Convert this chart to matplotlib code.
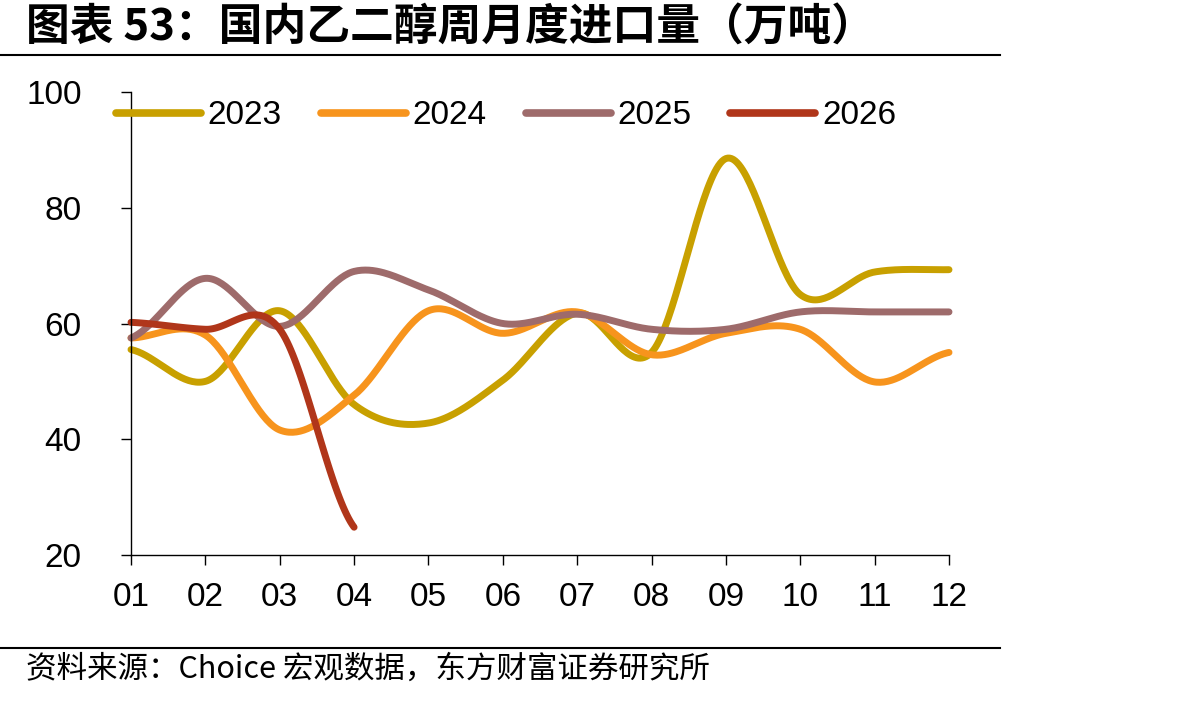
import numpy as np
import matplotlib.pyplot as plt

plt.rcParams['font.family'] = ['Liberation Sans', 'Noto Sans CJK SC', 'DejaVu Sans']

months = ['01', '02', '03', '04', '05', '06', '07', '08', '09', '10', '11', '12']
v2023 = [55.5, 50.0, 62.2, 46.0, 42.8, 50.2, 61.8, 55.0, 88.5, 65.0, 68.9, 69.3]
v2024 = [57.5, 58.0, 41.6, 47.6, 62.2, 58.3, 62.0, 54.6, 58.3, 59.0, 49.9, 55.0]
v2025 = [57.5, 67.8, 59.5, 69.0, 65.8, 60.0, 61.6, 59.0, 59.0, 62.0, 62.0, 62.0]
v2026 = [60.2, 59.0, 59.0, 24.8]
colors = ['#C8A000', '#F7941D', '#9E6B6B', '#B0361A']
labels = ['2023', '2024', '2025', '2026']


def smooth(y, n=40):
    # catmull-rom style curve through the points, like excel smoothed lines
    y = np.asarray(y, dtype=float)
    x = np.arange(len(y), dtype=float)
    m = np.zeros_like(y)
    m[1:-1] = (y[2:] - y[:-2]) / 2
    m[0] = (y[1] - y[0]) / 2
    m[-1] = (y[-1] - y[-2]) / 2
    xs, ys = [], []
    for i in range(len(y) - 1):
        t = np.linspace(0, 1, n, endpoint=False)
        h00 = 2 * t**3 - 3 * t**2 + 1
        h10 = t**3 - 2 * t**2 + t
        h01 = -2 * t**3 + 3 * t**2
        h11 = t**3 - t**2
        xs.append(x[i] + t)
        ys.append(h00 * y[i] + h10 * m[i] + h01 * y[i + 1] + h11 * m[i + 1])
    xs.append([x[-1]])
    ys.append([y[-1]])
    return np.concatenate(xs), np.concatenate(ys)


fig = plt.figure(figsize=(11.92, 7.01), dpi=100)
ax = fig.add_axes([131 / 1192, 1 - 555 / 701, 818 / 1192, 463 / 701])

for vals, c, lab in zip([v2023, v2024, v2025, v2026], colors, labels):
    xs, ys = smooth(vals)
    ax.plot(xs, ys, color=c, lw=5, label=lab, solid_capstyle='round', clip_on=False)

ax.set_xlim(0, 11)
ax.set_ylim(20, 100)
ax.set_xticks(range(12))
ax.set_xticklabels(months)
ax.set_yticks([20, 40, 60, 80, 100])
ax.tick_params(axis='both', labelsize=24, length=7.5, width=1, direction='out')
ax.tick_params(axis='x', pad=12)
ax.tick_params(axis='y', pad=28)
for s in ['top', 'right']:
    ax.spines[s].set_visible(False)
for s in ['left', 'bottom']:
    ax.spines[s].set_linewidth(1)

leg = ax.legend(loc='center left', bbox_to_anchor=(116 / 1192, 1 - 116 / 701), bbox_transform=fig.transFigure,
                ncol=4, frameon=False, fontsize=24, handlelength=2.55, handletextpad=0.2,
                columnspacing=1.17, borderaxespad=0, borderpad=0)
for h in leg.get_lines():
    h.set_linewidth(5.5)
    h.set_solid_capstyle('round')

fig.text(26 / 1192, 1 - 28 / 701, '图表 53：国内乙二醇周月度进口量（万吨）', fontsize=31.5, fontweight='bold',
         family=['Noto Sans CJK SC', 'DejaVu Sans'], va='center', ha='left')
fig.add_artist(plt.Line2D([0, 1000 / 1192], [1 - 55 / 701, 1 - 55 / 701], color='black', lw=1.5,
                          transform=fig.transFigure))
fig.add_artist(plt.Line2D([0, 1000 / 1192], [1 - 648 / 701, 1 - 648 / 701], color='black', lw=1.5,
                          transform=fig.transFigure))
fig.text(26 / 1192, 1 - 669 / 701, '资料来源：Choice 宏观数据，东方财富证券研究所', fontsize=22,
         family=['Noto Sans CJK SC', 'DejaVu Sans'], va='center', ha='left')

fig.savefig('out.png', dpi=100)
